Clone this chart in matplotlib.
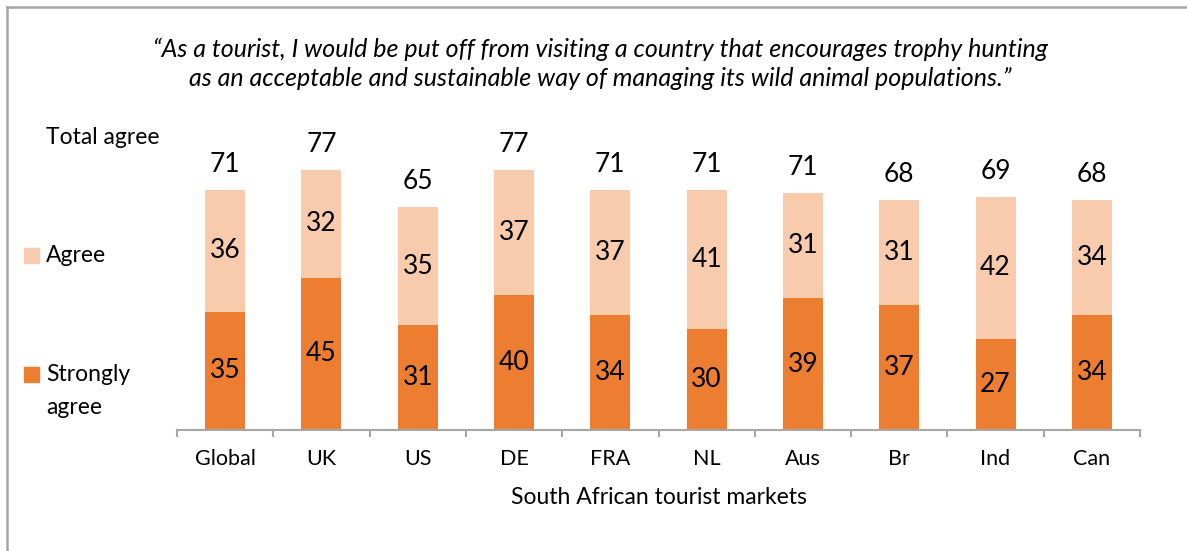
import numpy as np
import matplotlib.pyplot as plt
from matplotlib.lines import Line2D
from matplotlib.patches import Rectangle

plt.rcParams['font.family'] = ['Lato', 'DejaVu Sans']

# survey results by market
markets = ['Global', 'UK', 'US', 'DE', 'FRA', 'NL', 'Aus', 'Br', 'Ind', 'Can']
strongly_agree = [35, 45, 31, 40, 34, 30, 39, 37, 27, 34]
agree = [36, 32, 35, 37, 37, 41, 31, 31, 42, 34]
total_agree = [71, 77, 65, 77, 71, 71, 71, 68, 69, 68]

dark = '#ED7D31'
light = '#F8CBAD'
grey = '#A6A6A6'

W, H = 1187, 551
fig = plt.figure(figsize=(W / 100, H / 100), dpi=100)

# axes placed in pixel terms
left, right, bottom, top = 177, 1140, 430, 130
ax = fig.add_axes([left / W, 1 - bottom / H, (right - left) / W, (bottom - top) / H])

x = np.arange(len(markets))
bw = 0.415
ax.bar(x, strongly_agree, width=bw, color=dark)
ax.bar(x, agree, width=bw, bottom=strongly_agree, color=light)

for i in range(len(markets)):
    ax.text(x[i], strongly_agree[i] / 2, str(strongly_agree[i]),
            ha='center', va='center', fontsize=19, color='black')
    ax.text(x[i], strongly_agree[i] + agree[i] / 2, str(agree[i]),
            ha='center', va='center', fontsize=19, color='black')
    ax.annotate(str(total_agree[i]), (x[i], strongly_agree[i] + agree[i]),
                xytext=(0, 13), textcoords='offset points',
                ha='center', va='baseline', fontsize=19, color='black')

ax.set_xlim(-0.5, len(markets) - 0.5)
ax.set_ylim(0, (bottom - top) / 3.38)
for s in ['top', 'right', 'left']:
    ax.spines[s].set_visible(False)
ax.spines['bottom'].set_color(grey)
ax.spines['bottom'].set_linewidth(1.5)
ax.set_yticks([])
ax.set_xticks(x)
ax.set_xticklabels(markets, fontsize=15.5)
ax.tick_params(axis='x', which='major', length=0, pad=14)
ax.set_xticks(np.arange(-0.5, len(markets)), minor=True)
ax.tick_params(axis='x', which='minor', length=5, width=1.5, color=grey)
ax.set_xlabel('South African tourist markets', fontsize=16.5, labelpad=13)

# title
fig.text(600 / W, 1 - 64 / H,
         '\u201cAs a tourist, I would be put off from visiting a country that encourages trophy hunting\n'
         'as an acceptable and sustainable way of managing its wild animal populations.\u201d',
         ha='center', va='center', fontsize=18, style='italic', linespacing=1.3)

# legend drawn as text
fig.text(46 / W, 1 - 138 / H, 'Total agree', ha='left', va='center', fontsize=16.5)
fig.text(46 / W, 1 - 256 / H, 'Agree', ha='left', va='center', fontsize=16.5)
fig.text(46 / W, 1 - 391 / H, 'Strongly\nagree', ha='left', va='center', fontsize=16.5,
         linespacing=1.75)
fig.add_artist(Rectangle((24 / W, 1 - 263 / H), 15 / W, 15 / H, color=light,
                         transform=fig.transFigure))
fig.add_artist(Rectangle((24 / W, 1 - 382 / H), 15 / W, 15 / H, color=dark,
                         transform=fig.transFigure))

# outer frame lines
fig.add_artist(Line2D([7 / W, 1], [1 - 7 / H, 1 - 7 / H], color=grey, lw=1.8,
                      transform=fig.transFigure))
fig.add_artist(Line2D([7 / W, 7 / W], [0, 1 - 7 / H], color=grey, lw=1.8,
                      transform=fig.transFigure))

fig.savefig('out.png', dpi=100)
